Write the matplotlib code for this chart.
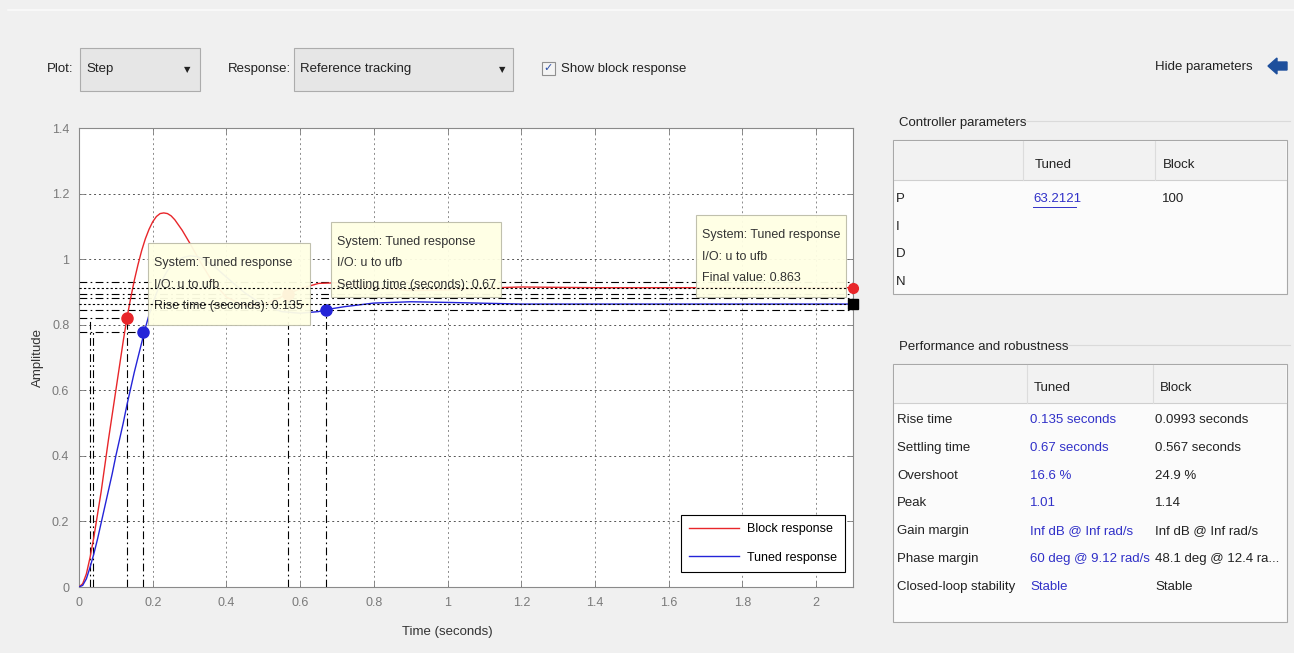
import numpy as np
import matplotlib.pyplot as plt
from matplotlib.patches import Rectangle, Polygon
from matplotlib.transforms import Affine2D
from matplotlib.ticker import FuncFormatter

plt.rcParams['font.family'] = ['Liberation Sans', 'DejaVu Sans']

# ---- step responses ----
t_block = [0, 0.01, 0.02, 0.03, 0.04, 0.05, 0.06, 0.07, 0.08, 0.09, 0.10, 0.11, 0.12,
           0.13, 0.14, 0.15, 0.16, 0.17, 0.18, 0.19, 0.20, 0.21, 0.22, 0.23, 0.24, 0.25,
           0.26, 0.28, 0.30, 0.33, 0.36, 0.40, 0.45, 0.50, 0.55, 0.60, 0.65, 0.70, 0.75,
           0.80, 0.90, 1.00, 1.10, 1.20, 1.40, 2.10]
y_block = [0, 0.01, 0.04, 0.09, 0.15, 0.22, 0.29, 0.37, 0.45, 0.525, 0.600, 0.675, 0.75,
           0.82, 0.88, 0.935, 0.983, 1.026, 1.062, 1.091, 1.114, 1.130, 1.139, 1.141, 1.139,
           1.132, 1.120, 1.088, 1.050, 0.990, 0.935, 0.884, 0.858, 0.862, 0.885, 0.910,
           0.926, 0.928, 0.921, 0.913, 0.904, 0.906, 0.912, 0.915, 0.913, 0.913]
t_tuned = [0, 0.01, 0.02, 0.03, 0.04, 0.05, 0.06, 0.07, 0.08, 0.09, 0.10, 0.11, 0.12,
           0.13, 0.14, 0.15, 0.16, 0.17, 0.18, 0.19, 0.20, 0.22, 0.24, 0.26, 0.28, 0.30,
           0.32, 0.34, 0.37, 0.40, 0.45, 0.50, 0.55, 0.60, 0.65, 0.67, 0.72, 0.80, 0.90,
           1.00, 1.20, 2.10]
y_tuned = [0, 0.005, 0.025, 0.06, 0.10, 0.145, 0.195, 0.245, 0.295, 0.345, 0.40, 0.45,
           0.50, 0.555, 0.605, 0.655, 0.70, 0.745, 0.79, 0.83, 0.865, 0.925, 0.965, 0.99,
           1.004, 1.01, 1.008, 0.999, 0.975, 0.945, 0.897, 0.86, 0.84, 0.835, 0.840, 0.846,
           0.855, 0.866, 0.870, 0.868, 0.863, 0.863]

# characteristics: index 0 = block, 1 = tuned
sys_names = ['Block response', 'Tuned response']
sys_colors = ['#e8262a', '#2424d8']
rise_t10 = [0.030, 0.038]
rise_t90 = [0.129, 0.174]
rise_y90 = [0.822, 0.777]
settle_t = [0.567, 0.670]
settle_y = [0.895, 0.846]
band_hi = [0.931, 0.880]
band_lo = [0.895, 0.846]
final_y = [0.913, 0.863]

xticks = [0, 0.2, 0.4, 0.6, 0.8, 1, 1.2, 1.4, 1.6, 1.8, 2]
yticks = [0, 0.2, 0.4, 0.6, 0.8, 1, 1.2, 1.4]

tips = ['System: Tuned response\nI/O: u to ufb\nRise time (seconds): 0.135',
        'System: Tuned response\nI/O: u to ufb\nSettling time (seconds): 0.67',
        'System: Tuned response\nI/O: u to ufb\nFinal value: 0.863']

ctrl_rows = ['P', 'I', 'D', 'N']
ctrl_tuned = ['63.2121', '', '', '']
ctrl_block = ['100', '', '', '']
perf_rows = ['Rise time', 'Settling time', 'Overshoot', 'Peak', 'Gain margin',
             'Phase margin', 'Closed-loop stability']
perf_tuned = ['0.135 seconds', '0.67 seconds', '16.6 %', '1.01', 'Inf dB @ Inf rad/s',
              '60 deg @ 9.12 rad/s', 'Stable']
perf_block = ['0.0993 seconds', '0.567 seconds', '24.9 %', '1.14', 'Inf dB @ Inf rad/s',
              '48.1 deg @ 12.4 ra...', 'Stable']

W, H = 1294, 653
fig = plt.figure(figsize=(W/100, H/100), dpi=100, facecolor='#f0f0f0')
# pixel coords measured from the top-left of the screenshot
pix = Affine2D().scale(1/W, -1/H).translate(0, 1) + fig.transFigure

def ftext(x, y, s, **kw):
    kw.setdefault('va', 'center'); kw.setdefault('fontsize', 9.5); kw.setdefault('color', '#222222')
    return fig.text(x, y, s, transform=pix, **kw)

def frect(x0, y0, x1, y1, **kw):
    fig.add_artist(Rectangle((x0, y0), x1-x0, y1-y0, transform=pix, **kw))

# window frame line at top
fig.add_artist(plt.Line2D([8, W], [10, 10], transform=pix, color='#fafafa', lw=1.2))

# ---------- top controls ----------
ftext(47, 69, 'Plot:')
frect(80, 48, 200, 91, fc='#e6e6e6', ec='#acacac', lw=0.8)
ftext(86, 69, 'Step')
ftext(187, 70, '\u25BC', fontsize=6, ha='center', family='DejaVu Sans')
ftext(228, 69, 'Response:')
frect(294, 48, 513, 91, fc='#e6e6e6', ec='#acacac', lw=0.8)
ftext(300, 69, 'Reference tracking')
ftext(502, 70, '\u25BC', fontsize=6, ha='center', family='DejaVu Sans')
frect(542, 62, 555, 75, fc='#f4f4f4', ec='#8f8f8f', lw=0.8)
ftext(548.5, 68, '\u2713', fontsize=8, ha='center', color='#2b4fa8', family='DejaVu Sans')
ftext(561, 69, 'Show block response')
ftext(1155, 67, 'Hide parameters')
fig.add_artist(Polygon([[1268, 66], [1277, 58], [1277, 62], [1287, 62], [1287, 70],
                        [1277, 70], [1277, 74]], closed=True, transform=pix,
                       fc='#1d4f9c', ec='#1d4f9c'))

# ---------- main plot ----------
ax = fig.add_axes([79/W, 1-587/H, (853-79)/W, (587-128)/H])
ax.set_facecolor('white')
ax.set_xlim(0, 2.1)
ax.set_ylim(0, 1.4)
ax.set_xticks(xticks)
ax.set_yticks(yticks)
fmt = FuncFormatter(lambda v, p: '%g' % v)
ax.xaxis.set_major_formatter(fmt)
ax.yaxis.set_major_formatter(fmt)
ax.tick_params(direction='in', length=4, width=0.6, colors='#7a7a7a', labelsize=9,
               top=True, right=True, pad=7)
for s in ax.spines.values():
    s.set_color('#8a8a8a'); s.set_linewidth(0.8)
ax.xaxis.grid(True, color='#8a8a8a', ls=(0, (2, 3)), lw=0.7)
ax.yaxis.grid(True, color='#555555', ls=(0, (2, 3)), lw=0.7)
ax.set_axisbelow(True)
ax.set_xlabel('Time (seconds)', fontsize=9.5, color='#333333')
ax.set_ylabel('Amplitude', fontsize=9.5, color='#333333')
ax.xaxis.set_label_coords(0.476, -0.085)
ax.yaxis.set_label_coords(-0.045, 0.5)

dashdot = (0, (7, 3, 1.5, 3))
dotted = (0, (2, 2))
for i in range(2):
    kw = dict(color='k', lw=0.8, ls=dashdot, zorder=2)
    ax.plot([0, rise_t90[i]], [rise_y90[i], rise_y90[i]], **kw)
    ax.plot([rise_t10[i], rise_t10[i]], [0, rise_y90[i]], **kw)
    ax.plot([rise_t90[i], rise_t90[i]], [0, rise_y90[i]], **kw)
    ax.plot([settle_t[i], settle_t[i]], [0, settle_y[i]], **kw)
    ax.axhline(band_hi[i], **kw)
    ax.axhline(band_lo[i], **kw)
    ax.axhline(final_y[i], color='k', lw=0.8, ls=dotted, zorder=6)

ax.plot(t_block, y_block, color=sys_colors[0], lw=1, zorder=3, label=sys_names[0])
ax.plot(t_tuned, y_tuned, color=sys_colors[1], lw=1, zorder=3, label=sys_names[1])

for i in range(2):
    ax.plot(rise_t90[i], rise_y90[i], 'o', color=sys_colors[i], ms=8, zorder=4)
    ax.plot(settle_t[i], settle_y[i], 'o', color=sys_colors[i], ms=8, zorder=4)
ax.plot(2.1, final_y[0], 'o', color=sys_colors[0], ms=7, zorder=8, clip_on=False)
ax.plot(2.1, final_y[1], 's', color='k', ms=7, zorder=8, clip_on=False)

# data tips (pixel-placed boxes)
tip_boxes = [(148, 243, 310, 325), (331, 222, 501, 297), (696, 215, 846, 297)]
for (x0, y0, x1, y1), s in zip(tip_boxes, tips):
    ax.add_patch(Rectangle((x0, y0), x1-x0, y1-y0, transform=pix, fc='#ffffe4',
                           ec='#bdbdaa', lw=0.8, alpha=0.95, zorder=5))
    for k, line in enumerate(s.split('\n')):
        ax.text(x0+6, y0+20+k*21.5, line, transform=pix, fontsize=9, color='#333333',
                va='center', zorder=5.5)

leg = ax.legend(loc='lower right', bbox_to_anchor=(851, 578), bbox_transform=pix,
                fontsize=9, fancybox=False, edgecolor='k', framealpha=1,
                handlelength=4.0, handletextpad=0.6, labelspacing=1.3, borderpad=0.65)
leg.get_frame().set_linewidth(0.8)
leg.set_zorder(9)

# ---------- right panels ----------
blue = '#3030c8'
ftext(899, 123, 'Controller parameters')
fig.add_artist(plt.Line2D([1020, 1290], [121, 121], transform=pix, color='#dadada', lw=0.8))
frect(893, 140, 1287, 294, fc='#fbfbfb', ec='#a8a8a8', lw=0.8)
frect(894, 141, 1286, 180, fc='#f2f2f2', ec='none')
fig.add_artist(plt.Line2D([894, 1286], [180, 180], transform=pix, color='#cfcfcf', lw=0.8))
for xs in (1023, 1155):
    fig.add_artist(plt.Line2D([xs, xs], [141, 180], transform=pix, color='#dcdcdc', lw=0.8))
ftext(1035, 165, 'Tuned')
ftext(1163, 165, 'Block')
for k, (r, a, b) in enumerate(zip(ctrl_rows, ctrl_tuned, ctrl_block)):
    y = 199 + k*27.7
    ftext(896, y, r)
    if a:
        ftext(1033, y, a, color=blue)
        fig.add_artist(plt.Line2D([1033, 1076], [y+8, y+8], transform=pix, color=blue, lw=0.7))
    ftext(1162, y, b)

ftext(899, 347, 'Performance and robustness')
fig.add_artist(plt.Line2D([1060, 1290], [345, 345], transform=pix, color='#dadada', lw=0.8))
frect(893, 364, 1287, 622, fc='#fbfbfb', ec='#a8a8a8', lw=0.8)
frect(894, 365, 1286, 403, fc='#f2f2f2', ec='none')
fig.add_artist(plt.Line2D([894, 1286], [403, 403], transform=pix, color='#cfcfcf', lw=0.8))
for xs in (1027, 1153):
    fig.add_artist(plt.Line2D([xs, xs], [365, 403], transform=pix, color='#dcdcdc', lw=0.8))
ftext(1034, 388, 'Tuned')
ftext(1160, 388, 'Block')
for k, (r, a, b) in enumerate(zip(perf_rows, perf_tuned, perf_block)):
    y = 420 + k*27.8
    ftext(897, y, r)
    ftext(1030, y, a, color=blue)
    ftext(1155, y, b)

fig.savefig('out.png', dpi=100, facecolor=fig.get_facecolor())
